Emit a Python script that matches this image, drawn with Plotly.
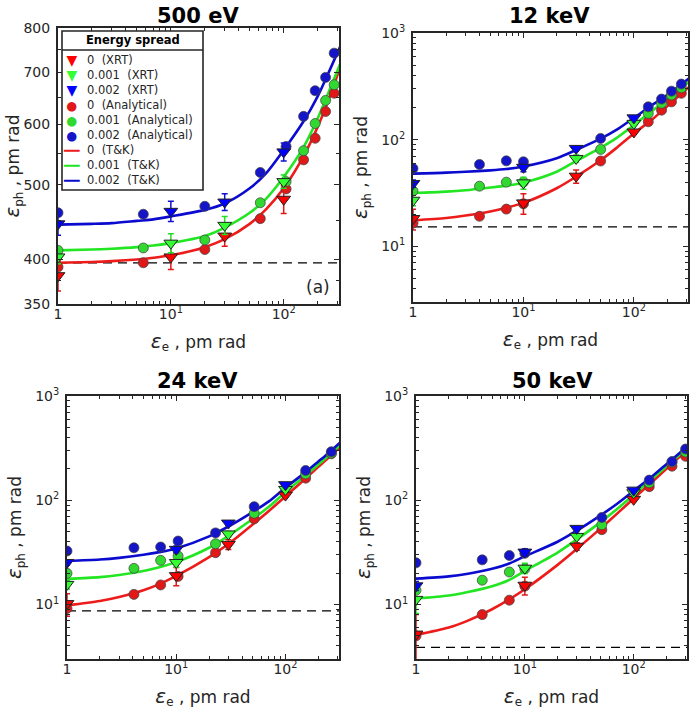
import plotly.graph_objects as go

# ---------------- data ----------------
TITLES = ["500 eV", "12 keV", "24 keV", "50 keV"]
SPREADS = ["0", "0.001", "0.002"]
DASHED = [396, 15.2, 8.7, 3.87]   # lambda / 2pi levels

XRT_X = [1, 10, 30, 100]
TK_X = [1, 2, 3, 5, 7, 10, 20, 30, 50, 70, 100, 150, 200, 250, 316]

# Panel 1: 500 eV
P1_AN_X = [1, 5.7, 20, 62, 105, 150, 190, 235, 280]
P1_AN_R = [391, 396, 412, 452, 494, 539, 575, 623, 658]
P1_AN_G = [411, 414, 424, 474, 505, 554, 601, 644, 675]
P1_AN_B = [460, 458, 469, 519, 561, 614, 663, 690, 742]
P1_XRT_R = [381, 403, 429, 479]
P1_XRT_G = [403, 420, 443, 505]
P1_XRT_B = [445, 462, 475, 552]
P1_ERR_R = [17, 15, 13, 20]
P1_ERR_G = [8, 12, 12, 10]
P1_ERR_B = [15, 14, 12, 15]
P1_TK_R = [396, 397, 398, 400, 402, 405, 415, 425, 445, 465, 495, 545, 595, 645, 711]
P1_TK_G = [411, 412, 413, 415, 417, 420, 429, 440, 460, 480, 512, 560, 610, 660, 718]
P1_TK_B = [444, 445, 446, 449, 451, 455, 464, 473, 495, 518, 555, 605, 652, 700, 756]

# Panel 2: 12 keV
P2_AN_X = [1, 4, 7, 10, 50, 135, 178, 219, 269]
P2_AN_R = [16.5, 19.1, 22.3, 25, 63, 147, 189, 226, 272]
P2_AN_G = [33, 36.6, 39.9, 40, 81, 176, 219, 262, 306]
P2_AN_B = [53.6, 58.5, 63.2, 61.9, 102.6, 203, 240, 285, 332]
P2_XRT_R = [18.2, 25.5, 45.4, 118]
P2_XRT_G = [27, 39.3, 66.6, 142]
P2_XRT_B = [38.8, 55, 82.7, 160]
P2_ERR_R = [4, 5.5, 6.5, 5]
P2_ERR_G = [3, 5, 5, 6]
P2_ERR_B = [3, 5, 4, 6]
P2_TK_R = [17.5, 18.4, 19.4, 21.2, 23, 25.5, 35, 45, 64, 84, 114, 158, 205, 252, 312]
P2_TK_G = [31.6, 32.5, 33.5, 35.5, 37, 39.5, 50, 63, 84, 104, 137, 190, 240, 288, 350]
P2_TK_B = [48, 49, 50, 51.5, 53, 56, 67, 80, 102, 124, 160, 215, 262, 312, 375]

# Panel 3: 24 keV
P3_AN_X = [1, 4.1, 7.2, 10.4, 22.9, 51.7, 153, 263]
P3_AN_R = [9.15, 12.5, 15.4, 18.6, 31.4, 66.3, 163, 279]
P3_AN_G = [19.9, 22.2, 26.5, 29.2, 38.2, 75, 179, 283]
P3_AN_B = [32.6, 35, 35.6, 40.6, 48.6, 86.8, 193, 292]
P3_XRT_R = [10.2, 18.9, 37.7, 112]
P3_XRT_G = [15.6, 25.3, 47.5, 127]
P3_XRT_B = [25.3, 33.8, 60.4, 141]
P3_ERR_R = [2.5, 3.8, 4, 5]
P3_ERR_G = [1.5, 2.5, 3, 4]
P3_ERR_B = [1.5, 2.5, 3, 4]
P3_TK_R = [9.8, 10.8, 11.8, 13.7, 15.7, 18.8, 28.5, 38, 58.5, 78.5, 109, 159, 209, 258, 325]
P3_TK_G = [17.6, 18.3, 19.2, 21, 22.8, 25.5, 35, 45.5, 66, 86, 120, 170, 220, 270, 339]
P3_TK_B = [26.2, 27, 28, 30, 31.8, 34.5, 45, 56, 77, 97, 132, 183, 235, 286, 358]

# Panel 4: 50 keV
P4_AN_X = [1, 4.06, 7.2, 10, 51, 139, 225, 300]
P4_AN_R = [5.0, 8.0, 11.0, 15, 52.2, 135, 212, 264]
P4_AN_G = [13.7, 17.1, 20.5, 22, 58.2, 147, 232, 290]
P4_AN_B = [25.1, 26.8, 29.5, 31, 68.4, 156, 235, 310]
P4_XRT_R = [5.2, 15.3, 36.2, 102]
P4_XRT_G = [11.2, 22.3, 45, 118]
P4_XRT_B = [15.1, 31.8, 53.7, 125]
P4_ERR_R = [2.8, 3, 3, 4]
P4_ERR_G = [3, 2.5, 3, 4]
P4_ERR_B = [1.5, 2.5, 2.5, 4]
P4_TK_R = [5.1, 6.0, 7.0, 9.0, 11, 14, 24, 34, 54, 74, 104, 152, 200, 248, 308]
P4_TK_G = [11.4, 12.2, 13.2, 15, 17, 21, 31.5, 42, 62, 82, 113, 163, 212, 260, 322]
P4_TK_B = [17.7, 18.6, 19.7, 22, 24.5, 29, 40, 51, 72, 92, 123, 172, 222, 270, 335]

# tick labels
X_TICKS = [1, 10, 100]
X_TICKTEXT = ["1", "10<sup>1</sup>", "10<sup>2</sup>"]
Y1_TICKS = [350, 400, 500, 600, 700, 800]
Y_LOG_TICKS = [10, 100, 1000]
Y_LOG_TICKTEXT = ["10<sup>1</sup>", "10<sup>2</sup>", "10<sup>3</sup>"]

PANELS = [
    (P1_AN_X, [P1_AN_R, P1_AN_G, P1_AN_B], [P1_XRT_R, P1_XRT_G, P1_XRT_B],
     [P1_ERR_R, P1_ERR_G, P1_ERR_B], [P1_TK_R, P1_TK_G, P1_TK_B]),
    (P2_AN_X, [P2_AN_R, P2_AN_G, P2_AN_B], [P2_XRT_R, P2_XRT_G, P2_XRT_B],
     [P2_ERR_R, P2_ERR_G, P2_ERR_B], [P2_TK_R, P2_TK_G, P2_TK_B]),
    (P3_AN_X, [P3_AN_R, P3_AN_G, P3_AN_B], [P3_XRT_R, P3_XRT_G, P3_XRT_B],
     [P3_ERR_R, P3_ERR_G, P3_ERR_B], [P3_TK_R, P3_TK_G, P3_TK_B]),
    (P4_AN_X, [P4_AN_R, P4_AN_G, P4_AN_B], [P4_XRT_R, P4_XRT_G, P4_XRT_B],
     [P4_ERR_R, P4_ERR_G, P4_ERR_B], [P4_TK_R, P4_TK_G, P4_TK_B]),
]

# ---------------- style ----------------
W, H = 693, 715
FONT = "DejaVu Sans"
INK = "#262626"
LINE_C = ["#ee1b1b", "#22e622", "#0b0bd0"]
TRI_C = ["#ff0000", "#33ff33", "#0000ff"]
CIR_C = ["#e01818", "#30d830", "#1414c8"]
ERR_C = ["#e01818", "#22dd22", "#1010d0"]


def fx(px):
    return px / W


def fy(py):
    return 1 - py / H


# pixel boxes on the page (left, top, right, bottom)
BOXES = [(58, 28, 339, 304), (413, 33, 688, 302), (67, 396, 339, 659), (416, 396, 687, 659)]
TITLE_POS = [(198, 16), (549, 16), (197, 381), (552, 381)]

fig = go.Figure()

for p, (anx, an, xrt, err, tk) in enumerate(PANELS):
    sfx = "" if p == 0 else str(p + 1)
    xa, ya = "x" + sfx, "y" + sfx
    fig.add_trace(go.Scatter(x=[1, 400], y=[DASHED[p]] * 2, mode="lines", xaxis=xa, yaxis=ya,
                             line=dict(color="black", width=1.3, dash="9px,6px"),
                             showlegend=False, hoverinfo="skip"))
    for k in range(3):
        fig.add_trace(go.Scatter(x=TK_X, y=tk[k], mode="lines", xaxis=xa, yaxis=ya,
                                 line=dict(color=LINE_C[k], width=2.6, shape="spline", smoothing=0.8),
                                 name=SPREADS[k] + " (T&K)", showlegend=False))
    for k in range(3):
        fig.add_trace(go.Scatter(x=anx, y=an[k], mode="markers", xaxis=xa, yaxis=ya,
                                 marker=dict(symbol="circle", size=10, color=CIR_C[k],
                                             line=dict(color="rgba(70,70,70,0.75)", width=1)),
                                 name=SPREADS[k] + " (Analytical)", showlegend=False))
    for k in range(3):
        fig.add_trace(go.Scatter(x=XRT_X, y=xrt[k], mode="markers", xaxis=xa, yaxis=ya,
                                 error_y=dict(type="data", array=err[k], color=ERR_C[k], thickness=1.5, width=3),
                                 marker=dict(symbol="triangle-down", size=12, color=TRI_C[k],
                                             line=dict(color="#222222", width=1)),
                                 name=SPREADS[k] + " (XRT)", showlegend=False))

layout = dict(width=W, height=H, margin=dict(l=0, r=0, t=0, b=0, autoexpand=False),
              paper_bgcolor="white", plot_bgcolor="white", showlegend=False,
              font=dict(family=FONT, color=INK, size=14))

X_MINOR = [2, 3, 4, 5, 6, 7, 8, 9, 20, 30, 40, 50, 60, 70, 80, 90, 200, 300]
Y_MINOR_LOG = [4, 5, 6, 7, 8, 9, 20, 30, 40, 50, 60, 70, 80, 90, 200, 300, 400, 500, 600, 700, 800, 900]
Y1_MINOR = [375, 450, 550, 650, 750]

EPS = '<span style="font-size:20px"><i>ε</i></span>'

for p, (l, t, r, b) in enumerate(BOXES):
    sfx = "" if p == 0 else str(p + 1)
    common = dict(type="log", showgrid=False, zeroline=False, showline=True, linecolor=INK, linewidth=2,
                  mirror="allticks", ticks="inside", ticklen=5, tickwidth=1, tickcolor=INK,
                  automargin=False, tickfont=dict(size=14, color=INK, family=FONT))
    xax = dict(common, domain=[fx(l), fx(r)], anchor="y" + sfx, range=[0, 2.49],
               tickvals=X_TICKS, ticktext=X_TICKTEXT, ticklabelstandoff=-4,
               minor=dict(ticks="inside", ticklen=3, tickwidth=1, tickcolor=INK, tickvals=X_MINOR),
               title=dict(text=EPS + "<sub>e</sub> , pm rad", font=dict(size=17, color=INK), standoff=15))
    if p == 0:
        yvals, ytxt, yr, ymin = Y1_TICKS, [str(v) for v in Y1_TICKS], [2.5441, 2.9031], Y1_MINOR
    else:
        yvals, ytxt, yr, ymin = Y_LOG_TICKS, Y_LOG_TICKTEXT, [0.4771, 3.0], Y_MINOR_LOG
    yax = dict(common, domain=[fy(b), fy(t)], anchor="x" + sfx, range=yr,
               tickvals=yvals, ticktext=ytxt, ticklabelstandoff=3,
               minor=dict(ticks="inside", ticklen=3, tickwidth=1, tickcolor=INK, tickvals=ymin),
               title=dict(text=EPS + "<sub>ph</sub> , pm rad", font=dict(size=17, color=INK), standoff=9))
    layout["xaxis" + sfx] = xax
    layout["yaxis" + sfx] = yax

annotations = []
for p, (cx, cy) in enumerate(TITLE_POS):
    annotations.append(dict(text="<b>" + TITLES[p] + "</b>", x=fx(cx), y=fy(cy), xref="paper", yref="paper",
                            showarrow=False, xanchor="center", yanchor="middle",
                            font=dict(size=21, color="black", family=FONT)))
annotations.append(dict(text="(a)", x=fx(318), y=fy(287), xref="paper", yref="paper", showarrow=False,
                        xanchor="center", yanchor="middle", font=dict(size=17, color=INK, family=FONT)))

# ---- legend (drawn as a text block) ----
LEG_L, LEG_R, LEG_T, LEG_SEP, LEG_B = 62, 203, 31, 50, 190
glyph_lines, label_lines = [], []
for k in range(3):
    glyph_lines.append('<span style="color:%s;font-size:14px">▼</span>' % TRI_C[k])
    label_lines.append(SPREADS[k] + "\u00a0\u00a0(XRT)")
for k in range(3):
    glyph_lines.append('<span style="color:%s;font-size:12.5px">●</span>' % CIR_C[k])
    label_lines.append(SPREADS[k] + "\u00a0\u00a0(Analytical)")
for k in range(3):
    glyph_lines.append('<span style="color:%s;font-size:13px">━━</span>' % LINE_C[k])
    label_lines.append(SPREADS[k] + "\u00a0\u00a0(T&K)")

shapes = [
    dict(type="rect", xref="paper", yref="paper", x0=fx(LEG_L), x1=fx(LEG_R), y0=fy(LEG_B), y1=fy(LEG_T),
         fillcolor="white", line=dict(color=INK, width=1.6), layer="above"),
    dict(type="line", xref="paper", yref="paper", x0=fx(LEG_L), x1=fx(LEG_R), y0=fy(LEG_SEP), y1=fy(LEG_SEP),
         line=dict(color=INK, width=1.3), layer="above"),
]
mid = (LEG_SEP + LEG_B) / 2
annotations.append(dict(text="<b>Energy spread</b>", x=fx((LEG_L + LEG_R) / 2), y=fy((LEG_T + LEG_SEP) / 2),
                        xref="paper", yref="paper", showarrow=False, xanchor="center", yanchor="middle",
                        font=dict(size=11.5, color="black", family=FONT)))
annotations.append(dict(text="<br>".join(glyph_lines), x=fx(71), y=fy(mid), xref="paper", yref="paper",
                        showarrow=False, xanchor="center", yanchor="middle", align="center", borderpad=0,
                        font=dict(size=11.5, color=INK, family=FONT)))
annotations.append(dict(text="<br>".join(label_lines), x=fx(86), y=fy(mid), xref="paper", yref="paper",
                        showarrow=False, xanchor="left", yanchor="middle", align="left", borderpad=0,
                        font=dict(size=11.5, color=INK, family=FONT)))
layout["annotations"] = annotations
layout["shapes"] = shapes

fig.update_layout(**layout)
fig.write_html("out.html", config={"displayModeBar": False},
               post_script="document.body.style.margin='0px';"
                           "document.documentElement.style.overflow='hidden';")
